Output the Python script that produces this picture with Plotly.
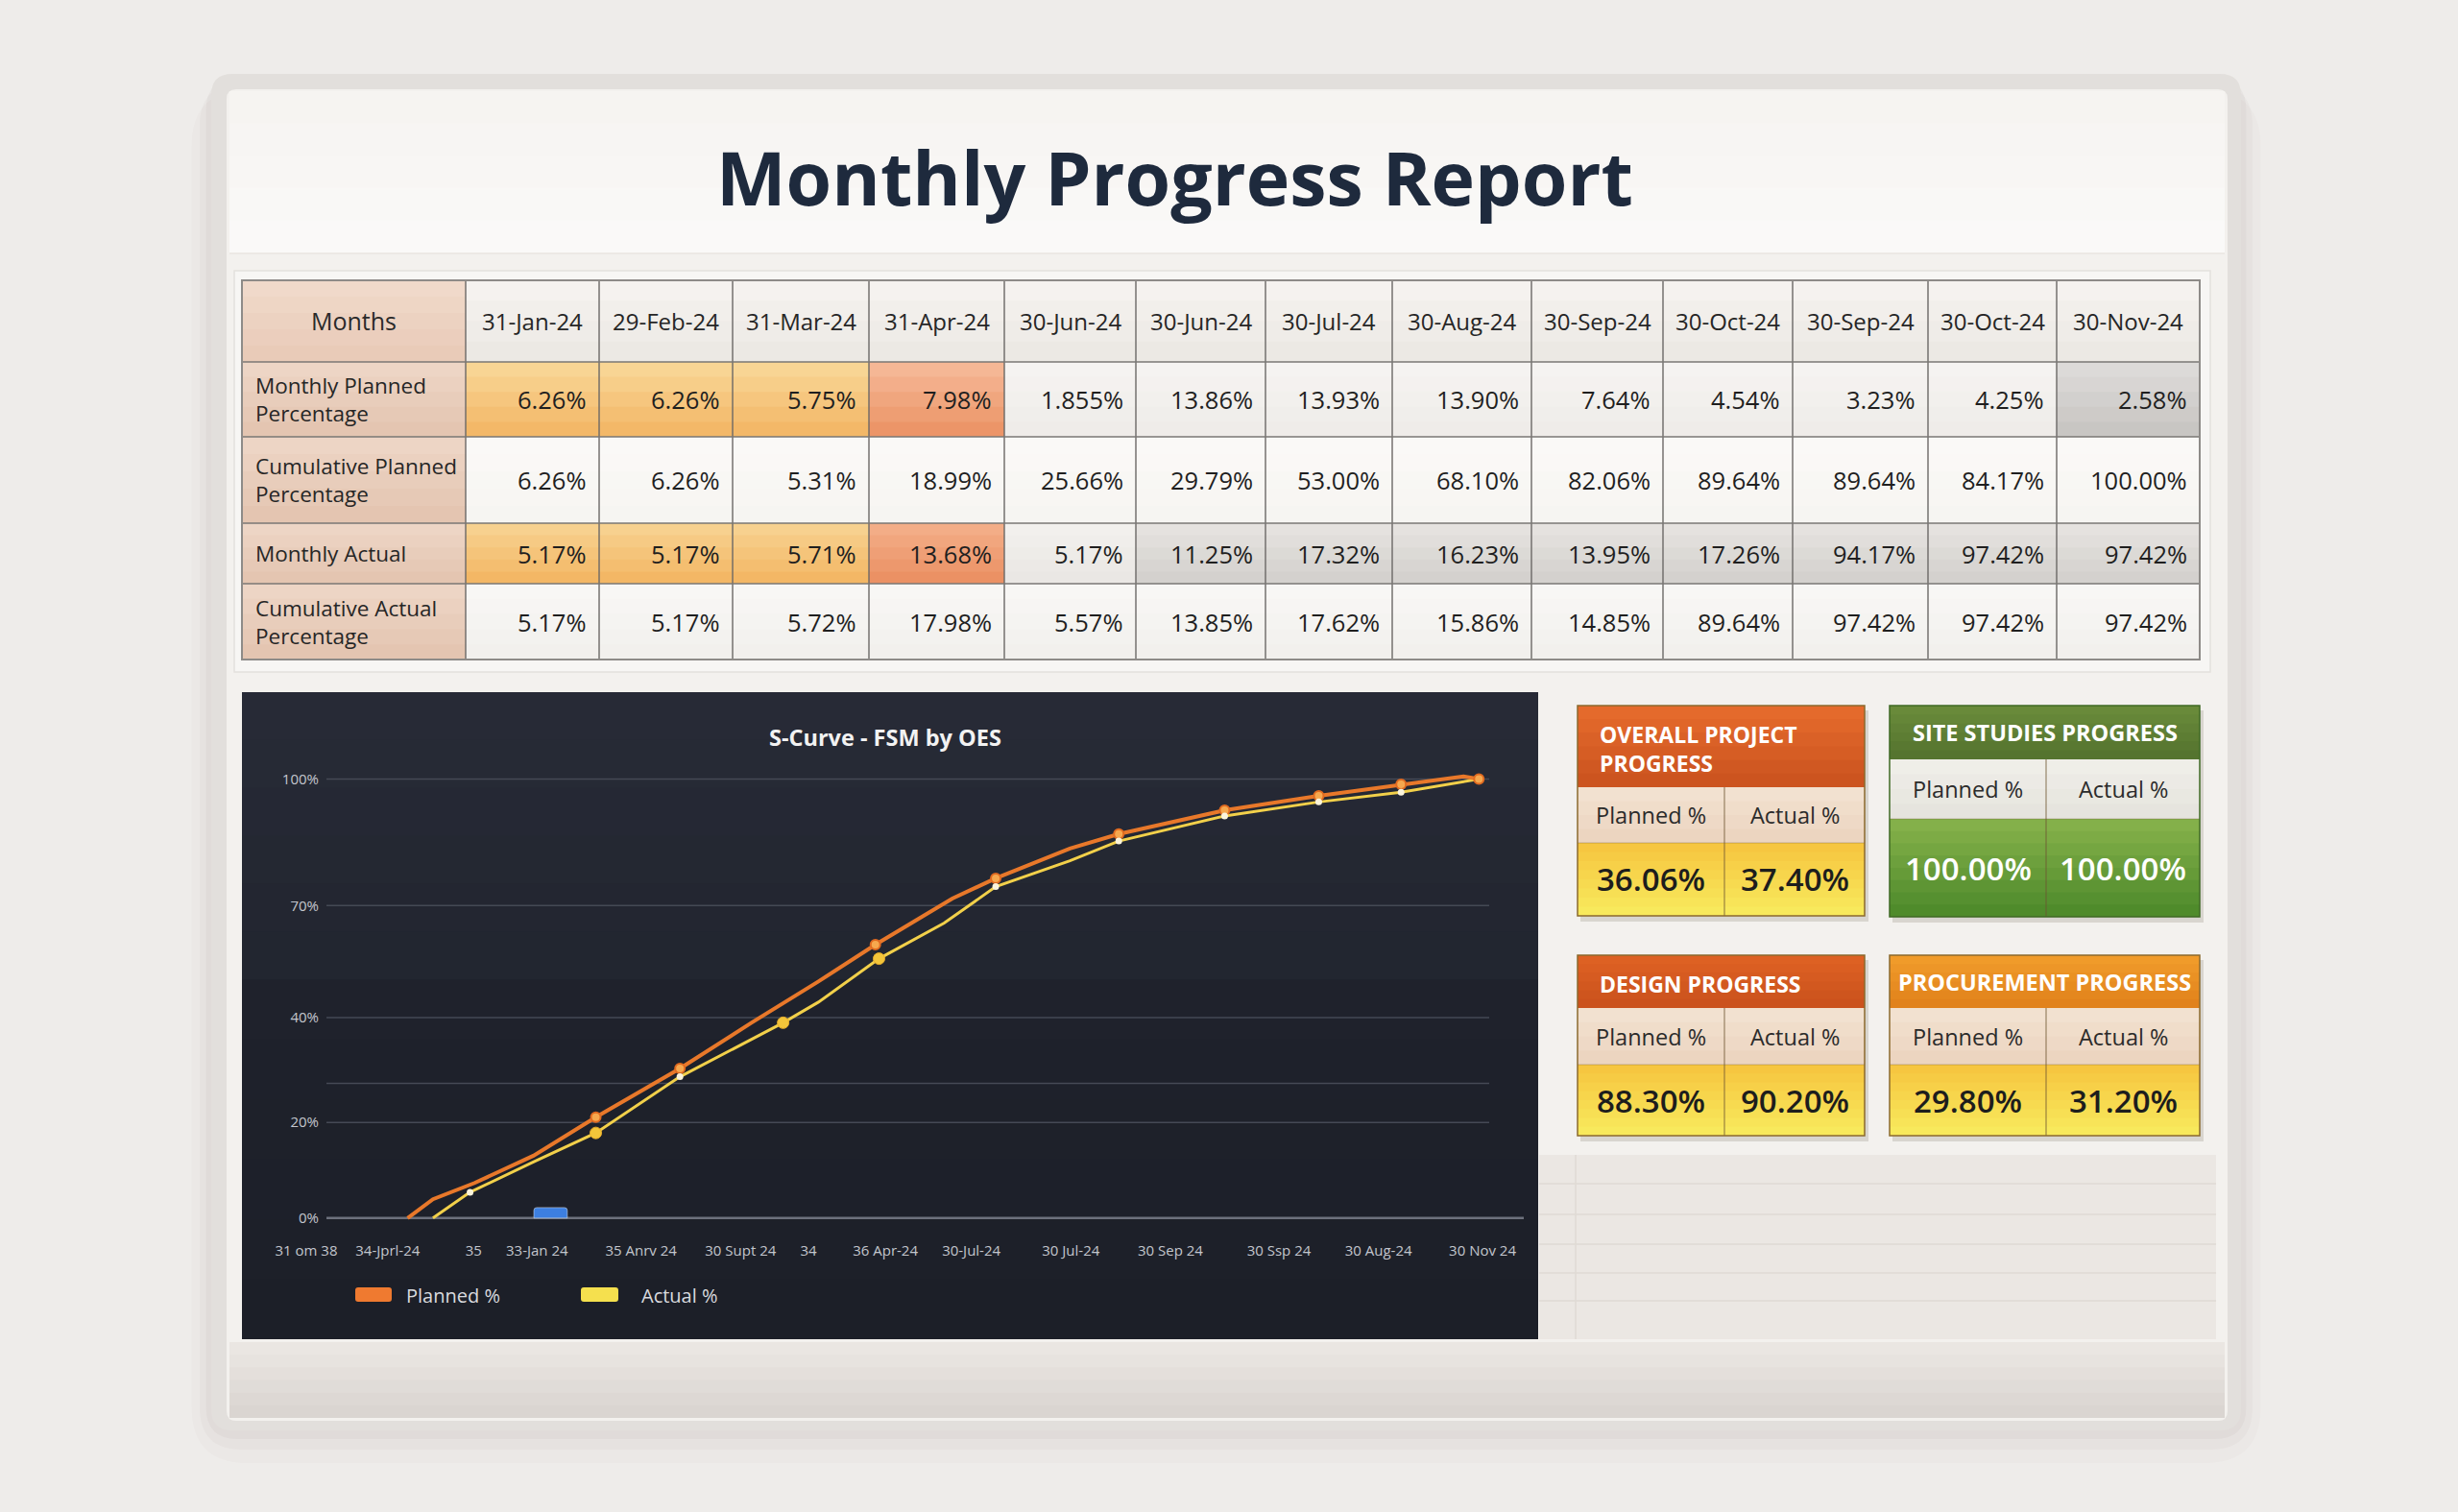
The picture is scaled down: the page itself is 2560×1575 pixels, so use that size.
import plotly.graph_objects as go

W, H = 2560, 1575
FONT = "Open Sans, Noto Sans, sans-serif"

# ---------------- table data ----------------
months = ["31-Jan-24", "29-Feb-24", "31-Mar-24", "31-Apr-24", "30-Jun-24", "30-Jun-24", "30-Jul-24",
          "30-Aug-24", "30-Sep-24", "30-Oct-24", "30-Sep-24", "30-Oct-24", "30-Nov-24"]
row_labels = ["Monthly Planned<br>Percentage", "Cumulative Planned<br>Percentage",
              "Monthly Actual", "Cumulative Actual<br>Percentage"]
monthly_planned = ["6.26%", "6.26%", "5.75%", "7.98%", "1.855%", "13.86%", "13.93%",
                   "13.90%", "7.64%", "4.54%", "3.23%", "4.25%", "2.58%"]
cumulative_planned = ["6.26%", "6.26%", "5.31%", "18.99%", "25.66%", "29.79%", "53.00%",
                      "68.10%", "82.06%", "89.64%", "89.64%", "84.17%", "100.00%"]
monthly_actual = ["5.17%", "5.17%", "5.71%", "13.68%", "5.17%", "11.25%", "17.32%",
                  "16.23%", "13.95%", "17.26%", "94.17%", "97.42%", "97.42%"]
cumulative_actual = ["5.17%", "5.17%", "5.72%", "17.98%", "5.57%", "13.85%", "17.62%",
                     "15.86%", "14.85%", "89.64%", "97.42%", "97.42%", "97.42%"]

# ---------------- S-curve data ----------------
x_tick_pos = [0, 0.9, 1.85, 2.55, 3.7, 4.8, 5.55, 6.4, 7.35, 8.45, 9.55, 10.75, 11.85, 13]
x_tick_text = ["31 om 38", "34-Jprl-24", "35", "33-Jan 24", "35 Anrv 24", "30 Supt 24", "34",
               "36 Apr-24", "30-Jul-24", "30 Jul-24", "30 Sep 24", "30 Ssp 24", "30 Aug-24", "30 Nov 24"]
y_tick_pos = [0, 21.8, 30.7, 45.7, 71.2, 100]
y_tick_text = ["0%", "20%", "", "40%", "70%", "100%"]

planned_x = [1.12, 1.40, 1.86, 2.51, 3.20, 4.13, 4.92, 5.66, 6.29, 7.14, 7.62, 8.44, 8.98,
             10.15, 11.19, 12.10, 12.79, 12.96]
planned_y = [0, 4.3, 8.0, 14.2, 23.0, 34.1, 44.5, 53.9, 62.3, 72.8, 77.4, 84.2, 87.5,
             92.9, 96.2, 98.8, 100.6, 100.0]
planned_marks = [4, 5, 8, 10, 12, 13, 14, 15, 17]

actual_x = [1.40, 1.81, 2.51, 3.20, 4.13, 5.27, 5.66, 6.33, 7.05, 7.62, 8.44, 8.98,
            10.15, 11.19, 12.10, 12.96]
actual_y = [0, 5.9, 12.8, 19.4, 32.2, 44.5, 49.2, 59.1, 67.2, 75.5, 81.4, 85.9,
            91.6, 94.8, 97.0, 100.0]
actual_marks_big = [3, 5, 7]
actual_marks_small = [1, 4, 9, 11, 12, 13, 14]

blue_x = [2.70]
blue_y = [2.4]

# ---------------- KPI cards ----------------
kpi_titles = ["OVERALL PROJECT<br>PROGRESS", "SITE STUDIES PROGRESS", "DESIGN PROGRESS", "PROCUREMENT PROGRESS"]
kpi_planned = ["36.06%", "100.00%", "88.30%", "29.80%"]
kpi_actual = ["37.40%", "100.00%", "90.20%", "31.20%"]

shapes = []
ann = []


def X(p):
    return p / W


def Y(p):
    return 1 - p / H


def mix(c1, c2, t):
    a = [int(c1[i:i + 2], 16) for i in (1, 3, 5)]
    b = [int(c2[i:i + 2], 16) for i in (1, 3, 5)]
    return "rgb(%d,%d,%d)" % tuple(round(a[k] + (b[k] - a[k]) * t) for k in range(3))


def rect(x0, y0, x1, y1, fill, line=None, lw=0, layer="below"):
    shapes.append(dict(type="rect", xref="paper", yref="paper", x0=X(x0), x1=X(x1), y0=Y(y1), y1=Y(y0),
                       fillcolor=fill, line=dict(color=line or "rgba(0,0,0,0)", width=lw), layer=layer))


def grad(x0, y0, x1, y1, top, bot, n=6):
    h = (y1 - y0) / n
    for i in range(n):
        rect(x0, y0 + i * h, x1, min(y1, y0 + (i + 1) * h + 0.8), mix(top, bot, (i + 0.5) / n))


def hline(x0, x1, y, color, w):
    shapes.append(dict(type="line", xref="paper", yref="paper", x0=X(x0), x1=X(x1), y0=Y(y), y1=Y(y),
                       line=dict(color=color, width=w), layer="below"))


def vline(x, y0, y1, color, w):
    shapes.append(dict(type="line", xref="paper", yref="paper", x0=X(x), x1=X(x), y0=Y(y0), y1=Y(y1),
                       line=dict(color=color, width=w), layer="below"))


def rrect(x0, y0, x1, y1, r, fill, line=None, lw=0):
    pts = [("M", x0 + r, y0), ("L", x1 - r, y0), ("Q", x1, y0, x1, y0 + r), ("L", x1, y1 - r),
           ("Q", x1, y1, x1 - r, y1), ("L", x0 + r, y1), ("Q", x0, y1, x0, y1 - r), ("L", x0, y0 + r),
           ("Q", x0, y0, x0 + r, y0)]
    d = ""
    for p in pts:
        coords = " ".join("%.5f,%.5f" % (X(p[k]), Y(p[k + 1])) for k in range(1, len(p), 2))
        d += p[0] + coords + " "
    shapes.append(dict(type="path", xref="paper", yref="paper", path=d + "Z", fillcolor=fill,
                       line=dict(color=line or "rgba(0,0,0,0)", width=lw), layer="below"))


def text(x, y, s, size, color, xanchor="center", weight=400, align="center"):
    ann.append(dict(xref="paper", yref="paper", x=X(x), y=Y(y), text=s, showarrow=False,
                    xanchor=xanchor, yanchor="middle", align=align,
                    font=dict(family=FONT, size=size, color=color, weight=weight)))


# ---------------- page / card ----------------
for k, a in [(34, 0.02), (20, 0.03), (9, 0.045)]:
    rrect(220 - k * 0.6, 77 + k * 0.5, 2334 + k * 0.6, 1490 + k, 24 + k, "rgba(90,70,60,%.3f)" % a)
rrect(220, 77, 2334, 1490, 22, "#e2dfdc")
rrect(236, 93, 2320, 1480, 10, "#f3f1ee")
grad(239, 95, 2317, 263, "#f5f3f0", "#fbfaf9", n=5)
hline(239, 2317, 264, "#ece9e5", 2)
rect(244, 282, 2302, 700, "#f7f6f4", "#e4e1dd", 1.5)
grad(239, 1398, 2317, 1477, "#ece8e4", "#d8d3cf", n=6)
rect(1603, 1203, 2308, 1395, "#ebe7e3")
for yy in [1233, 1265, 1296, 1326, 1355]:
    hline(1603, 2308, yy, "#dfdad5", 1.5)
vline(1641, 1203, 1395, "#dfdad5", 1.5)

text(1223, 184, "Monthly Progress Report", 77, "#1e2a3d", weight=700)

# ---------------- table ----------------
col_edges = [252, 485, 624, 763, 905, 1046, 1183, 1318, 1450, 1595, 1732, 1867, 2008, 2142, 2291]
row_edges = [292, 377, 455, 545, 608, 687]
rows = [monthly_planned, cumulative_planned, monthly_actual, cumulative_actual]


def cell_fill(r, c):
    if r == 0:
        if c < 3:
            return ("#f9d99a", "#f2b462")
        if c == 3:
            return ("#f6bb9b", "#eb9162")
        if c == 12:
            return ("#dfdddb", "#c6c3c0")
        return ("#f6f4f2", "#eeebe8")
    if r == 1:
        return ("#fbfaf8", "#f6f4f1")
    if r == 2:
        if c < 3:
            return ("#f8d494", "#f2b460")
        if c == 3:
            return ("#f4b08b", "#ea8e60")
        if c == 4:
            return ("#f3f1ee", "#e9e6e3")
        return ("#e7e4e1", "#d2cfcc")
    return ("#f9f8f6", "#f1efec")


grad(col_edges[0], row_edges[0], col_edges[1], row_edges[1], "#f1dbcc", "#e8c9b6", n=5)
for c in range(13):
    grad(col_edges[c + 1], row_edges[0], col_edges[c + 2], row_edges[1], "#f6f4f1", "#ebe7e2", n=4)
for r in range(4):
    grad(col_edges[0], row_edges[r + 1], col_edges[1], row_edges[r + 2], "#eed7c8", "#e3c3ae", n=5)
    for c in range(13):
        top, bot = cell_fill(r, c)
        grad(col_edges[c + 1], row_edges[r + 1], col_edges[c + 2], row_edges[r + 2], top, bot, n=5)

for xe in col_edges[1:-1]:
    vline(xe, row_edges[0], row_edges[-1], "#6b6866", 1.4)
for ye in row_edges[1:-1]:
    hline(col_edges[0], col_edges[-1], ye, "#7a7774", 1.4)
rect(col_edges[0], row_edges[0], col_edges[-1], row_edges[-1], "rgba(0,0,0,0)", "#8e8b88", 2)

hy = (row_edges[0] + row_edges[1]) / 2
text((col_edges[0] + col_edges[1]) / 2, hy, "Months", 25, "#2a2a2a")
for c, m in enumerate(months):
    text((col_edges[c + 1] + col_edges[c + 2]) / 2, hy, m, 24, "#262626")
for r, (lab, vals) in enumerate(zip(row_labels, rows)):
    cy = (row_edges[r + 1] + row_edges[r + 2]) / 2
    text(264, cy, lab, 22.5, "#262626", xanchor="left", align="left")
    for c, v in enumerate(vals):
        text(col_edges[c + 2] - 11, cy, v, 25.5, "#1f1f1f", xanchor="right")

# ---------------- S-curve panel ----------------
grad(252, 721, 1602, 1020, "#272b37", "#22252f", n=6)
grad(252, 1020, 1602, 1395, "#1f222c", "#1c1f28", n=6)

for v in y_tick_pos:
    shapes.append(dict(type="line", xref="paper", yref="y", x0=X(340), x1=X(1587 if v == 0 else 1551),
                       y0=v, y1=v, layer="below",
                       line=dict(color="#6c707c" if v == 0 else "#454955", width=2.5 if v == 0 else 1.5)))

text(922, 768, "S-Curve - FSM by OES", 23.5, "#f2f2f2", weight=700)

rrect(370, 1341, 408, 1356, 3, "#ef7a30")
text(421, 1349, "Planned %", 20, "#d9dadf", xanchor="left")
rrect(605, 1341, 644, 1356, 3, "#f5e04e")
text(666, 1349, "Actual %", 20, "#d9dadf", xanchor="left")

fig = go.Figure()
fig.add_trace(go.Bar(x=blue_x, y=blue_y, width=0.37, marker=dict(color="#3d7fe0", cornerradius=3),
                     hoverinfo="skip"))
fig.add_trace(go.Scatter(x=actual_x, y=actual_y, mode="lines", name="Actual %",
                         line=dict(color="#f2d04a", width=3)))
fig.add_trace(go.Scatter(x=planned_x, y=planned_y, mode="lines", name="Planned %",
                         line=dict(color="#e8782a", width=4)))
fig.add_trace(go.Scatter(x=[planned_x[i] for i in planned_marks], y=[planned_y[i] for i in planned_marks],
                         mode="markers", cliponaxis=False,
                         marker=dict(size=10, color="#f6a84e", line=dict(color="#e06a20", width=2))))
fig.add_trace(go.Scatter(x=[actual_x[i] for i in actual_marks_big], y=[actual_y[i] for i in actual_marks_big],
                         mode="markers", marker=dict(size=12, color="#f3c53a", line=dict(color="#e9ae2a", width=1))))
fig.add_trace(go.Scatter(x=[actual_x[i] for i in actual_marks_small], y=[actual_y[i] for i in actual_marks_small],
                         mode="markers", marker=dict(size=7, color="#fbf4dc")))

# ---------------- KPI cards ----------------
cards = [
    dict(x0=1643, x1=1942, y0=735, yh=820, ys=878, y1=954, div=1796, head=("#e76c2d", "#c9521e"),
         sub=("#f3e3d2", "#ebd3be"), val=("#f6c43e", "#f8eb5e"), vcol="#1d1d1d", anchor="left", bd="#8a6a2e"),
    dict(x0=1968, x1=2291, y0=735, yh=791, ys=853, y1=955, div=2131, head=("#6b8c3b", "#53722e"),
         sub=("#f0efea", "#e5e3dc"), val=("#88b34c", "#4b8829"), vcol="#ffffff", anchor="center", bd="#3f6a25"),
    dict(x0=1643, x1=1942, y0=995, yh=1050, ys=1109, y1=1183, div=1796, head=("#df6224", "#c9511c"),
         sub=("#f3e3d2", "#ebd3be"), val=("#f6c43e", "#f8eb5e"), vcol="#1d1d1d", anchor="left", bd="#8a6a2e"),
    dict(x0=1968, x1=2291, y0=995, yh=1050, ys=1109, y1=1183, div=2131, head=("#f19d2c", "#e0801a"),
         sub=("#f3e3d2", "#ebd3be"), val=("#f6c43e", "#f8eb5e"), vcol="#1d1d1d", anchor="center", bd="#8a6a2e"),
]
for cd, title, pv, av in zip(cards, kpi_titles, kpi_planned, kpi_actual):
    rect(cd["x0"] + 3, cd["y0"] + 5, cd["x1"] + 4, cd["y1"] + 6, "rgba(60,40,20,0.14)")
    grad(cd["x0"], cd["y0"], cd["x1"], cd["yh"], cd["head"][0], cd["head"][1], n=6)
    grad(cd["x0"], cd["yh"], cd["x1"], cd["ys"], cd["sub"][0], cd["sub"][1], n=4)
    grad(cd["x0"], cd["ys"], cd["x1"], cd["y1"], cd["val"][0], cd["val"][1], n=8)
    vline(cd["div"], cd["yh"], cd["y1"], "rgba(110,85,50,0.55)", 1.5)
    hline(cd["x0"], cd["x1"], cd["ys"], "rgba(110,85,50,0.35)", 1)
    rect(cd["x0"], cd["y0"], cd["x1"], cd["y1"], "rgba(0,0,0,0)", cd["bd"], 1.5)
    hy_c = (cd["y0"] + cd["yh"]) / 2
    if cd["anchor"] == "left":
        text(cd["x0"] + 21, hy_c + 2, title, 23, "#ffffff", xanchor="left", weight=700, align="left")
    else:
        text((cd["x0"] + cd["x1"]) / 2, hy_c, title, 23.5, "#ffffff", weight=700)
    lx = (cd["x0"] + cd["div"]) / 2
    rx = (cd["div"] + cd["x1"]) / 2
    sy = (cd["yh"] + cd["ys"]) / 2
    vy = (cd["ys"] + cd["y1"]) / 2
    text(lx, sy, "Planned %", 23.5, "#2b2b2b")
    text(rx, sy, "Actual %", 23.5, "#2b2b2b")
    text(lx, vy, pv, 33, cd["vcol"], weight=600)
    text(rx, vy, av, 33, cd["vcol"], weight=600)

fig.update_layout(
    width=W, height=H,
    margin=dict(l=0, r=0, t=0, b=0, pad=0, autoexpand=False),
    paper_bgcolor="#eeecea",
    plot_bgcolor="rgba(0,0,0,0)",
    showlegend=False,
    shapes=shapes,
    annotations=ann,
    font=dict(family=FONT),
    xaxis=dict(domain=[X(300), X(1587)], range=[-0.2016, 13.456], tickvals=x_tick_pos, ticktext=x_tick_text,
               tickfont=dict(size=15, color="#c3c6cd"), showgrid=False, zeroline=False, showline=False,
               ticks="", ticklabelstandoff=14, automargin=False, fixedrange=True),
    yaxis=dict(domain=[Y(1278), Y(793.3)], range=[-2, 104], tickvals=y_tick_pos, ticktext=y_tick_text,
               tickfont=dict(size=15, color="#c3c6cd"), showgrid=False, zeroline=False, showline=False,
               ticks="", ticklabelstandoff=-33, automargin=False, fixedrange=True),
)

# the page body has a default 8px margin; drop it so the figure fills the window exactly
fig.write_html("out.html", config={"displayModeBar": False},
               post_script="document.body.style.margin='0';document.body.style.overflow='hidden';")
